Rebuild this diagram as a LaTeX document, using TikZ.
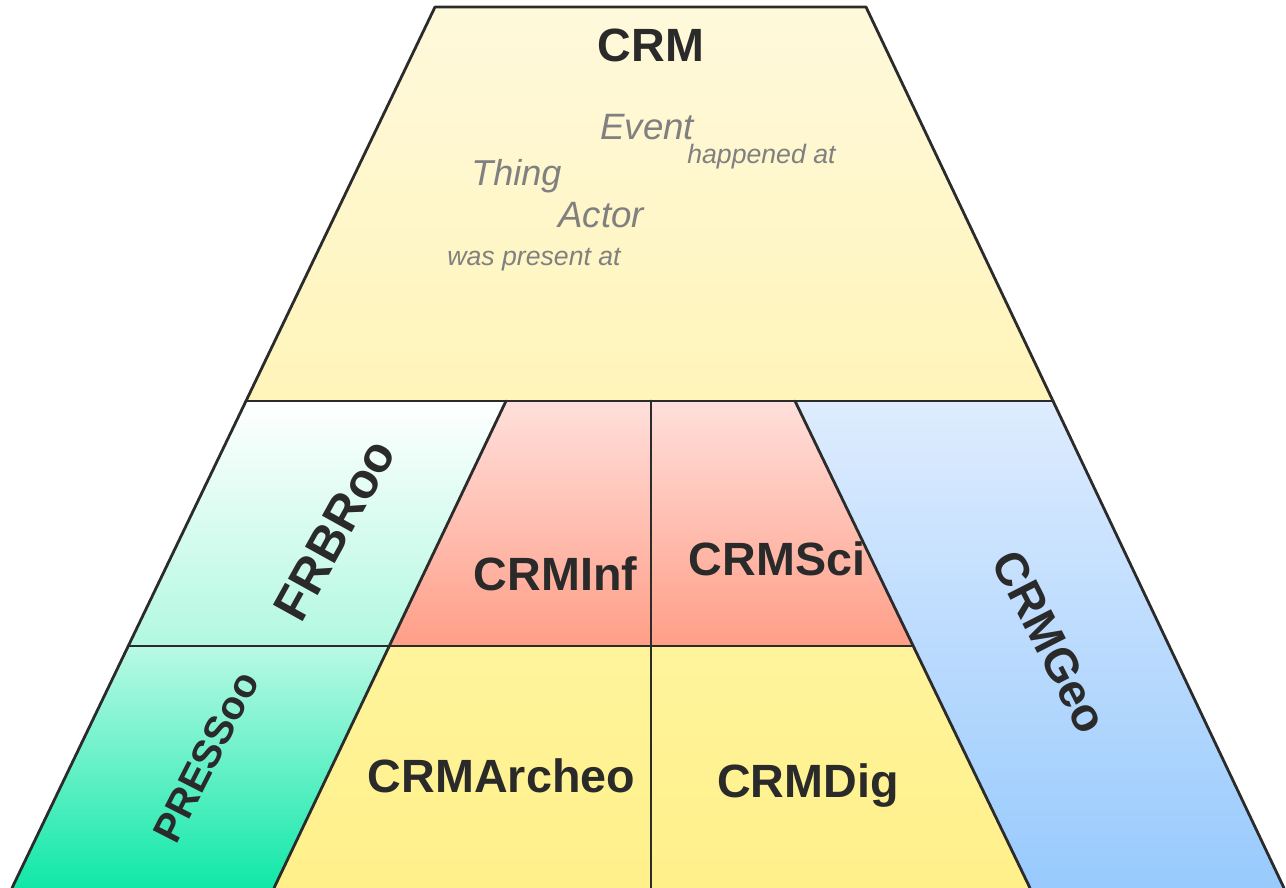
\documentclass[tikz,border=0pt]{standalone}
\usepackage{fontspec}
\setmainfont{Liberation Sans}
\definecolor{linegray}{HTML}{2B2B2B}
\definecolor{textdark}{HTML}{2A2A2A}
\definecolor{glossgray}{HTML}{808080}
\definecolor{crmA}{HTML}{FFF9DC}
\definecolor{crmB}{HTML}{FFF4B9}
\definecolor{frbrA}{HTML}{FFFFFF}
\definecolor{frbrB}{HTML}{B2F8E1}
\definecolor{pressA}{HTML}{B9F9E5}
\definecolor{pressB}{HTML}{10E8A8}
\definecolor{redA}{HTML}{FFDFDB}
\definecolor{redB}{HTML}{FF9E87}
\definecolor{geoA}{HTML}{DEECFE}
\definecolor{geoB}{HTML}{98CAFD}
\definecolor{yelA}{HTML}{FFF49C}
\definecolor{yelB}{HTML}{FFF08A}
\begin{document}
\begin{tikzpicture}[x=0.75pt,y=-0.75pt,
  edge/.style={draw=linegray,line width=2.1pt,line join=round,line cap=round},
  title/.style={font=\bfseries\fontsize{35}{35}\selectfont,text=textdark,inner sep=0pt},
  gloss/.style={font=\itshape\fontsize{27.5}{27.5}\selectfont,text=glossgray,inner sep=0pt,anchor=base west},
  rel/.style={font=\itshape\fontsize{20}{20}\selectfont,text=glossgray,inner sep=0pt,anchor=base west}]
\useasboundingbox (0,0) rectangle (1286,888);

% corner points of the pyramid
\coordinate (apexL) at (435,7);
\coordinate (apexR) at (866,7);
\coordinate (midL) at (246,401);
\coordinate (midR) at (1053,401);
\coordinate (lowL) at (129,646);
\coordinate (baseL) at (12,888);
\coordinate (baseR) at (1284,888);
\coordinate (splitTop) at (506,401);
\coordinate (splitMid) at (390,646);
\coordinate (splitBase) at (274,888);
\coordinate (centerTop) at (651,401);
\coordinate (centerMid) at (651,646);
\coordinate (centerBase) at (651,888);
\coordinate (geoTop) at (795,401);
\coordinate (geoMid) at (912,646);
\coordinate (geoBase) at (1030,888);

% filled regions
\shade[top color=crmA,bottom color=crmB] (apexL) -- (apexR) -- (midR) -- (midL) -- cycle;
\shade[top color=frbrA,bottom color=frbrB] (midL) -- (splitTop) -- (splitMid) -- (lowL) -- cycle;
\shade[top color=pressA,bottom color=pressB] (lowL) -- (splitMid) -- (splitBase) -- (baseL) -- cycle;
\shade[top color=redA,bottom color=redB] (splitTop) -- (centerTop) -- (centerMid) -- (splitMid) -- cycle;
\shade[top color=redA,bottom color=redB] (centerTop) -- (geoTop) -- (geoMid) -- (centerMid) -- cycle;
\shade[top color=yelA,bottom color=yelB] (splitMid) -- (centerMid) -- (centerBase) -- (splitBase) -- cycle;
\shade[top color=yelA,bottom color=yelB] (centerMid) -- (geoMid) -- (geoBase) -- (centerBase) -- cycle;
\shade[top color=geoA,bottom color=geoB] (geoTop) -- (midR) -- (baseR) -- (geoBase) -- cycle;

% outlines
\draw[edge] (midL) -- (apexL) -- (apexR) -- (midR);
\draw[edge] (midL) -- (midR);
\draw[edge] (midL) -- (baseL);
\draw[edge] (midR) -- (baseR);
\draw[edge] (splitTop) -- (splitBase);
\draw[edge] (lowL) -- (geoMid);
\draw[edge] (centerTop) -- (centerBase);
\draw[edge] (geoTop) -- (geoBase);

% module names
\node[title,anchor=base] (crm) at (651,62) {CRM};
\node[title,anchor=base] (inf) at (555.5,590) {CRMInf};
\node[title,anchor=base] (sci) at (777,575) {CRMSci};
\node[title,anchor=base] (archeo) at (501.5,792) {CRMArcheo};
\node[title,anchor=base] (dig) at (808,797) {CRMDig};
\node[title,font=\bfseries\fontsize{37}{37}\selectfont,rotate=61] (frbr) at (335,530) {FRBRoo};
\node[title,font=\bfseries\fontsize{30}{30}\selectfont,rotate=63] (press) at (206,757) {PRESSoo};
\node[title,rotate=-63] (geo) at (1050,642) {CRMGeo};

% core vocabulary
\node[gloss] (event) at (600,140) {Event};
\node[rel] (happened) at (687,164) {happened at};
\node[gloss,font=\itshape\fontsize{27}{27}\selectfont] (thing) at (471,186) {Thing};
\node[gloss] (actor) at (558,228) {Actor};
\node[rel] (present) at (447,266) {was present at};
\end{tikzpicture}
\end{document}
